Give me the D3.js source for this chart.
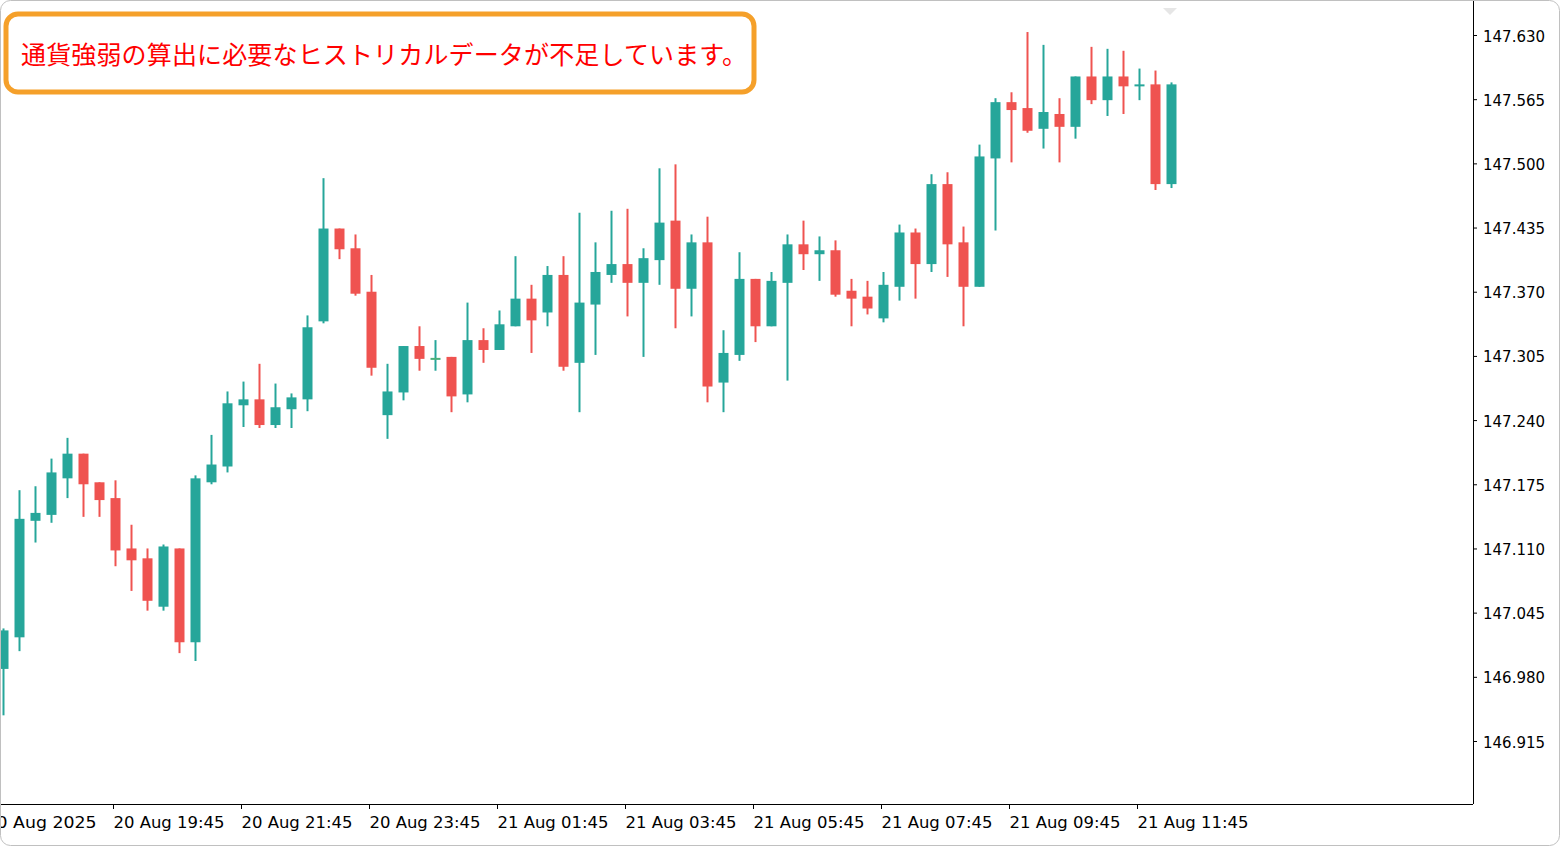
<!DOCTYPE html>
<html><head><meta charset="utf-8">
<script src="https://cdn.jsdelivr.net/npm/d3@7"></script>
<style>body{margin:0;background:#fff}svg{display:block}</style>
</head><body><div id="chart"></div>
<script>
// 15分足 USDJPY (20 Aug 18:00 〜 21 Aug 12:15)
const opens = [146.988,147.020,147.138,147.144,147.181,147.206,147.177,147.161,147.110,147.100,147.051,147.110,147.015,147.177,147.193,147.255,147.261,147.235,147.251,147.261,147.340,147.434,147.414,147.370,147.245,147.268,147.315,147.303,147.304,147.266,147.321,147.311,147.335,147.363,147.349,147.387,147.298,147.357,147.387,147.398,147.379,147.402,147.442,147.373,147.420,147.278,147.306,147.383,147.335,147.379,147.418,147.408,147.412,147.371,147.365,147.343,147.375,147.430,147.398,147.479,147.420,147.375,147.505,147.562,147.556,147.535,147.550,147.537,147.588,147.564,147.588,147.578,147.580,147.479]
const highs = [147.029,147.169,147.173,147.201,147.222,147.206,147.177,147.179,147.134,147.110,147.114,147.110,147.184,147.225,147.269,147.279,147.297,147.277,147.267,147.346,147.485,147.434,147.428,147.387,147.297,147.315,147.335,147.321,147.304,147.359,147.333,147.351,147.406,147.377,147.396,147.406,147.450,147.420,147.452,147.454,147.414,147.495,147.499,147.428,147.446,147.331,147.410,147.383,147.390,147.428,147.442,147.426,147.422,147.383,147.381,147.390,147.438,147.434,147.489,147.491,147.436,147.519,147.566,147.572,147.633,147.620,147.566,147.588,147.618,147.616,147.614,147.596,147.594,147.582]
const lows = [146.941,147.006,147.116,147.136,147.161,147.142,147.142,147.092,147.067,147.047,147.047,147.004,146.996,147.175,147.187,147.233,147.232,147.232,147.232,147.249,147.338,147.403,147.366,147.285,147.221,147.260,147.290,147.290,147.248,147.258,147.298,147.311,147.335,147.308,147.335,147.290,147.248,147.306,147.379,147.345,147.304,147.377,147.333,147.345,147.258,147.248,147.300,147.319,147.335,147.280,147.392,147.381,147.365,147.335,147.347,147.339,147.361,147.363,147.390,147.385,147.335,147.375,147.432,147.501,147.531,147.515,147.501,147.525,147.560,147.548,147.550,147.564,147.473,147.475]
const closes = [147.027,147.140,147.146,147.187,147.206,147.175,147.159,147.108,147.098,147.057,147.112,147.015,147.181,147.195,147.257,147.261,147.235,147.253,147.263,147.334,147.434,147.413,147.368,147.293,147.269,147.315,147.302,147.303,147.264,147.321,147.311,147.337,147.363,147.341,147.387,147.294,147.359,147.390,147.398,147.379,147.404,147.440,147.373,147.420,147.274,147.308,147.383,147.335,147.381,147.418,147.408,147.412,147.367,147.363,147.353,147.377,147.430,147.398,147.479,147.418,147.375,147.507,147.562,147.554,147.533,147.552,147.537,147.588,147.564,147.588,147.578,147.580,147.479,147.580]
const priceTicks = [146.915,146.980,147.045,147.110,147.175,147.240,147.305,147.370,147.435,147.500,147.565,147.630]
const startTime = new Date(2025, 7, 20, 18, 0)
const message = '通貨強弱の算出に必要なヒストリカルデータが不足しています。'

const W = 1560, H = 846
const plotR = 1473, plotB = 804
const t = i => new Date(startTime.getTime() + i * 15 * 60000)
const bars = opens.map((o, i) => ({ time: t(i), o, h: highs[i], l: lows[i], c: closes[i] }))

const x = d3.scaleTime().domain([t(0), t(73)]).range([3, 1171])
const y = d3.scaleLinear().domain([146.915, 147.630]).range([741, 35])

const svg = d3.select('#chart').append('svg').attr('width', W).attr('height', H)
  .style('font-family', 'Tahoma, "DejaVu Sans", sans-serif')

const g = svg.append('g')
g.selectAll('line.wick').data(bars).join('line')
  .attr('x1', d => Math.round(x(d.time)) + 0.5).attr('x2', d => Math.round(x(d.time)) + 0.5)
  .attr('y1', d => y(d.h)).attr('y2', d => y(d.l))
  .attr('stroke', d => d.c >= d.o ? '#26a69a' : '#ef5350').attr('stroke-width', 2)
g.selectAll('rect.body').data(bars).join('rect')
  .attr('x', d => Math.round(x(d.time)) - 4.5).attr('width', 10)
  .attr('y', d => y(Math.max(d.o, d.c)))
  .attr('height', d => Math.max(2, Math.abs(y(d.o) - y(d.c))))
  .attr('fill', d => d.c > d.o ? '#26a69a' : d.c < d.o ? '#ef5350' : '#4caf7a')

// frame
svg.append('line').attr('x1', plotR + 0.5).attr('x2', plotR + 0.5).attr('y1', 0).attr('y2', plotB)
  .attr('stroke', '#000')
svg.append('line').attr('x1', 0).attr('x2', plotR).attr('y1', plotB + 0.5).attr('y2', plotB + 0.5)
  .attr('stroke', '#000')

// price axis
const ya = svg.append('g').attr('transform', `translate(${plotR},0)`)
  .call(d3.axisRight(y).tickValues(priceTicks).tickFormat(d3.format('.3f')).tickSize(4).tickPadding(6))
ya.select('.domain').remove()
ya.selectAll('text').attr('font-size', 15).attr('fill', '#000').attr('dy', '0.4em')
  .attr('font-family', 'Tahoma, "DejaVu Sans", sans-serif')

// time axis
const timeTicks = d3.range(-1, 74, 8).map(t)
const fmt = d => d.getTime() === t(-1).getTime() ? '20 Aug 2025' : d3.timeFormat('%d %b %H:%M')(d)
const xa = svg.append('g').attr('transform', `translate(-2,${plotB})`)
  .call(d3.axisBottom(x).tickValues(timeTicks).tickFormat(fmt).tickSize(5))
xa.select('.domain').remove()
xa.selectAll('text').attr('font-size', 16).attr('fill', '#000').attr('text-anchor', 'start')
  .attr('dx', 0).attr('dy', 16).attr('textLength', 111).attr('lengthAdjust', 'spacingAndGlyphs')
  .attr('font-family', 'Tahoma, "DejaVu Sans", sans-serif')

// small marker at top
svg.append('path').attr('d', 'M1163,8 L1177,8 L1170,15 Z').attr('fill', '#e6e6e6')

// message box
svg.append('rect').attr('x', 6).attr('y', 14).attr('width', 748).attr('height', 78).attr('rx', 12)
  .attr('fill', '#fff').attr('stroke', '#f5a02a').attr('stroke-width', 5)
svg.append('text').attr('x', 21).attr('y', 64).text(message)
  .attr('font-family', '"Noto Sans CJK JP", sans-serif').attr('font-size', 25).attr('fill', '#f00')
  .attr('textLength', 726)

// outer border
svg.append('rect').attr('x', 0.5).attr('y', 0.5).attr('width', W - 1).attr('height', H - 1).attr('rx', 10)
  .attr('fill', 'none').attr('stroke', '#c0c0c0')
</script></body></html>
